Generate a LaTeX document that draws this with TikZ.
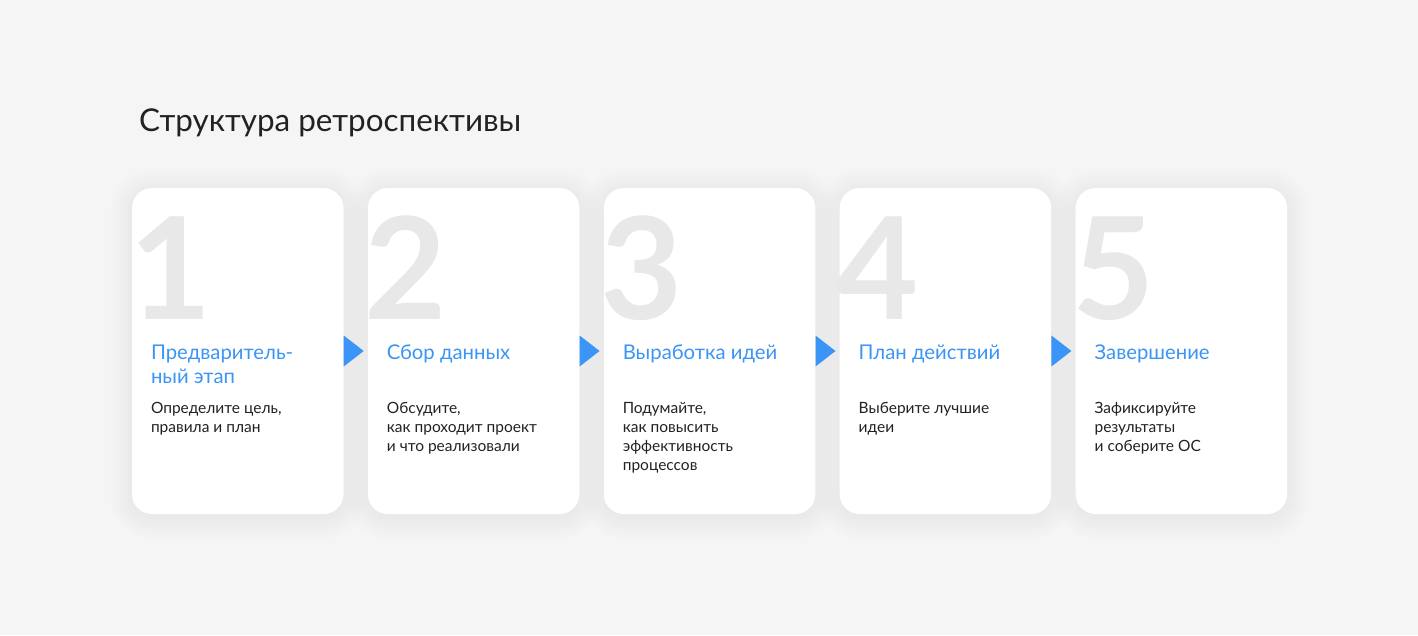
\documentclass[tikz,border=0pt]{standalone}
\usepackage{fontspec}
\setmainfont{Lato}
\usetikzlibrary{positioning}
\usetikzlibrary{calc}
\usetikzlibrary{backgrounds}
\newcommand{\cardlines}[1]{\begin{tabular}[t]{@{}l@{}}#1\end{tabular}}
\tikzset{card/.style={fill=white,rounded corners=20pt,minimum width=211.5pt,minimum height=326pt,inner sep=0pt}}
\tikzset{cardshadow/.style={fill=black,opacity=0.003}}
\tikzset{bignum/.style={anchor=base west,inner sep=0pt,text=numgrey,font=\fontsize{142}{142}\selectfont\bfseries}}
\tikzset{stephead/.style={anchor=base west,inner sep=0pt,text=stepblue,font=\fontsize{20.3}{24}\selectfont}}
\tikzset{stepbody/.style={anchor=base west,inner sep=0pt,text=textdark,font=\fontsize{15.5}{19}\selectfont}}
\tikzset{pointer/.style={fill=stepblue}}
\begin{document}
\begin{tikzpicture}[x=1pt,y=-1pt]
\definecolor{bggrey}{HTML}{F5F5F5}
\definecolor{numgrey}{HTML}{E8E8E8}
\definecolor{stepblue}{HTML}{3B95F6}
\definecolor{textdark}{HTML}{222222}
\useasboundingbox (0,0) rectangle (1418,635);

\node[anchor=base west,inner sep=0pt,text=textdark,font=\fontsize{31.4}{36}\selectfont] (title) at (139,131) {Структура ретроспективы};

% cards
\node[card] (card1) at (237.75,351) {};
\node[card,right=24pt of card1] (card2) {};
\node[card,right=24pt of card2] (card3) {};
\node[card,right=24pt of card3] (card4) {};
\node[card,right=24pt of card4] (card5) {};

% soft shadow under the cards
\begin{scope}[on background layer]
\fill[bggrey] (0,0) rectangle (1418,635);
\foreach \s in {2,4,...,22}
  \foreach \c in {card1,card2,card3,card4,card5}
    \fill[cardshadow,rounded corners={(20+\s)*1pt}] ([shift={(-\s,-\s+3)}]\c.north west) rectangle ([shift={(\s,\s+3)}]\c.south east);
\end{scope}

% big numbers
\node[bignum] (num1) at ($(card1.north west)+(-3,132)$) {1};
\node[bignum] (num2) at ($(card2.north west)+(-3,132)$) {2};
\node[bignum] (num3) at ($(card3.north west)+(-3,132)$) {3};
\node[bignum] (num4) at ($(card4.north west)+(-3,132)$) {4};
\node[bignum] (num5) at ($(card5.north west)+(-3,132)$) {5};

% headings
\node[stephead] (head1) at ($(card1.north west)+(19,172)$) {\cardlines{Предваритель-\\ный этап}};
\node[stephead] (head2) at ($(card2.north west)+(19,172)$) {Сбор данных};
\node[stephead] (head3) at ($(card3.north west)+(19,172)$) {Выработка идей};
\node[stephead] (head4) at ($(card4.north west)+(19,172)$) {План действий};
\node[stephead] (head5) at ($(card5.north west)+(19,172)$) {Завершение};

% descriptions
\node[stepbody] (body1) at ($(card1.north west)+(19,226)$) {\cardlines{Определите цель,\\правила и план}};
\node[stepbody] (body2) at ($(card2.north west)+(19,226)$) {\cardlines{Обсудите,\\как проходит проект\\и что реализовали}};
\node[stepbody] (body3) at ($(card3.north west)+(19,226)$) {\cardlines{Подумайте,\\как повысить\\эффективность\\процессов}};
\node[stepbody] (body4) at ($(card4.north west)+(19,226)$) {\cardlines{Выберите лучшие\\идеи}};
\node[stepbody] (body5) at ($(card5.north west)+(19,226)$) {\cardlines{Зафиксируйте\\результаты\\и соберите ОС}};

% arrows between cards
\fill[pointer] ([yshift=15.5pt]card1.east) -- ([xshift=20pt]card1.east) -- ([yshift=-15.5pt]card1.east) -- cycle;
\fill[pointer] ([yshift=15.5pt]card2.east) -- ([xshift=20pt]card2.east) -- ([yshift=-15.5pt]card2.east) -- cycle;
\fill[pointer] ([yshift=15.5pt]card3.east) -- ([xshift=20pt]card3.east) -- ([yshift=-15.5pt]card3.east) -- cycle;
\fill[pointer] ([yshift=15.5pt]card4.east) -- ([xshift=20pt]card4.east) -- ([yshift=-15.5pt]card4.east) -- cycle;
\end{tikzpicture}
\end{document}
